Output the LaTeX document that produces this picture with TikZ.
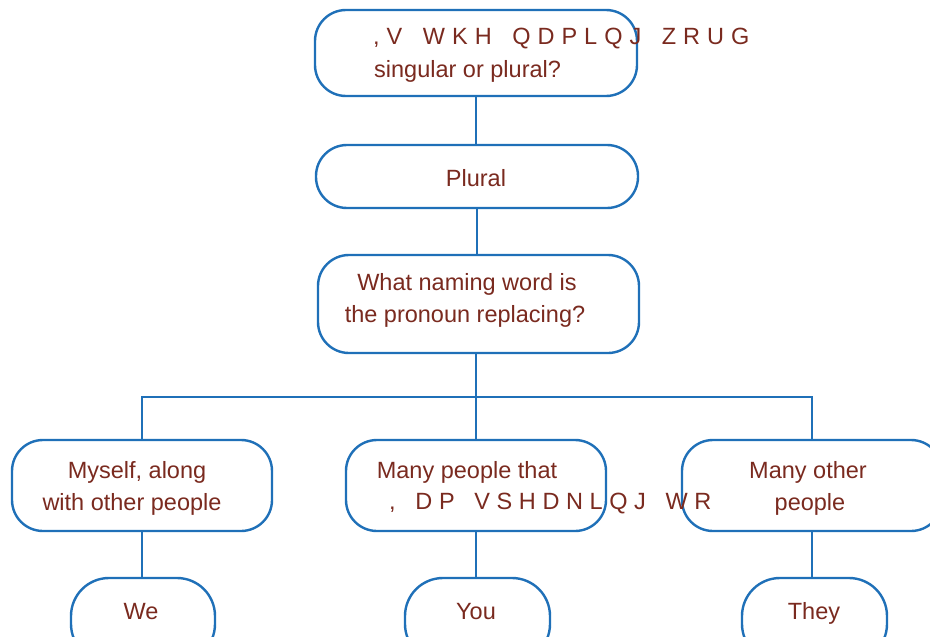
\documentclass[tikz,border=0pt]{standalone}
\usepackage{fontspec}
\setmainfont{Liberation Sans}
\definecolor{lineblue}{HTML}{1F70B8}
\definecolor{txtred}{HTML}{7A2A1F}
\makeatletter
\def\lsp#1#2{\def\lspk{#1}\lspA#2\relax}
\def\lspA#1{\ifx#1\relax\else#1\kern\lspk\expandafter\lspA\fi}
\makeatother
\begin{document}
\begin{tikzpicture}[x=1pt,y=-1pt,
  box/.style={draw=lineblue, line width=2.4pt, rounded corners=31pt, inner sep=0pt, fill=white},
  txt/.style={text=txtred, font=\fontsize{23.5}{32}\selectfont, inner sep=0pt, anchor=base},
  link/.style={draw=lineblue, line width=2.4pt}]
\clip (0,0) rectangle (930,637);
\fill[white] (0,0) rectangle (930,637);
% boxes
\node[box, minimum width=322pt, minimum height=86pt] (top) at (476,53) {};
\node[box, minimum width=322pt, minimum height=63pt] (plural) at (477,176.5) {};
\node[box, minimum width=321pt, minimum height=98pt] (what) at (478.5,304) {};
\node[box, minimum width=260pt, minimum height=91pt] (myself) at (142,485.5) {};
\node[box, minimum width=260pt, minimum height=91pt] (many) at (476,485.5) {};
\node[box, minimum width=260pt, minimum height=91pt] (other) at (812,485.5) {};
\node[box, rounded corners=38pt, minimum width=144pt, minimum height=84pt] (we) at (143,620) {};
\node[box, rounded corners=38pt, minimum width=145pt, minimum height=84pt] (you) at (477.5,620) {};
\node[box, rounded corners=38pt, minimum width=145pt, minimum height=84pt] (they) at (814.5,620) {};
% connectors
\coordinate (bar) at (476,397);
\draw[link] (top.south) -- (top.south |- plural.north);
\draw[link] (plural.south) -- (plural.south |- what.north);
\draw[link] (what.south -| bar) -- (bar);
\draw[link] (myself.north) |- (other.north |- bar) -- (other.north);
\draw[link] (many.north) -- (many.north |- bar);
\draw[link] (myself.south) -- (myself.south |- we.north);
\draw[link] (many.south) -- (many.south |- you.north);
\draw[link] (other.south) -- (other.south |- they.north);
% texts
\node[txt, anchor=base west] (t1a) at (373,45) {\lsp{7pt}{,V~WKH~QDPLQJ~ZRUG}};
\node[txt, anchor=base west] (t1b) at (374,77) {singular or plural?};
\node[txt] (t2) at (476,186) {Plural};
\node[txt] (t3a) at (467,290) {What naming word is};
\node[txt] (t3b) at (465,322) {the pronoun replacing?};
\node[txt] (t4a) at (137,478) {Myself, along};
\node[txt] (t4b) at (132,510) {with other people};
\node[txt] (t5a) at (467,478) {Many people that};
\node[txt, anchor=base west] (t5b) at (389,509) {\lsp{6.6pt}{,~DP~VSHDNLQJ~WR}};
\node[txt] (t6a) at (808,478) {Many other};
\node[txt] (t6b) at (810,510) {people};
\node[txt] (t7) at (141,619) {We};
\node[txt] (t8) at (476,619) {You};
\node[txt] (t9) at (814,619) {They};
\end{tikzpicture}
\end{document}
